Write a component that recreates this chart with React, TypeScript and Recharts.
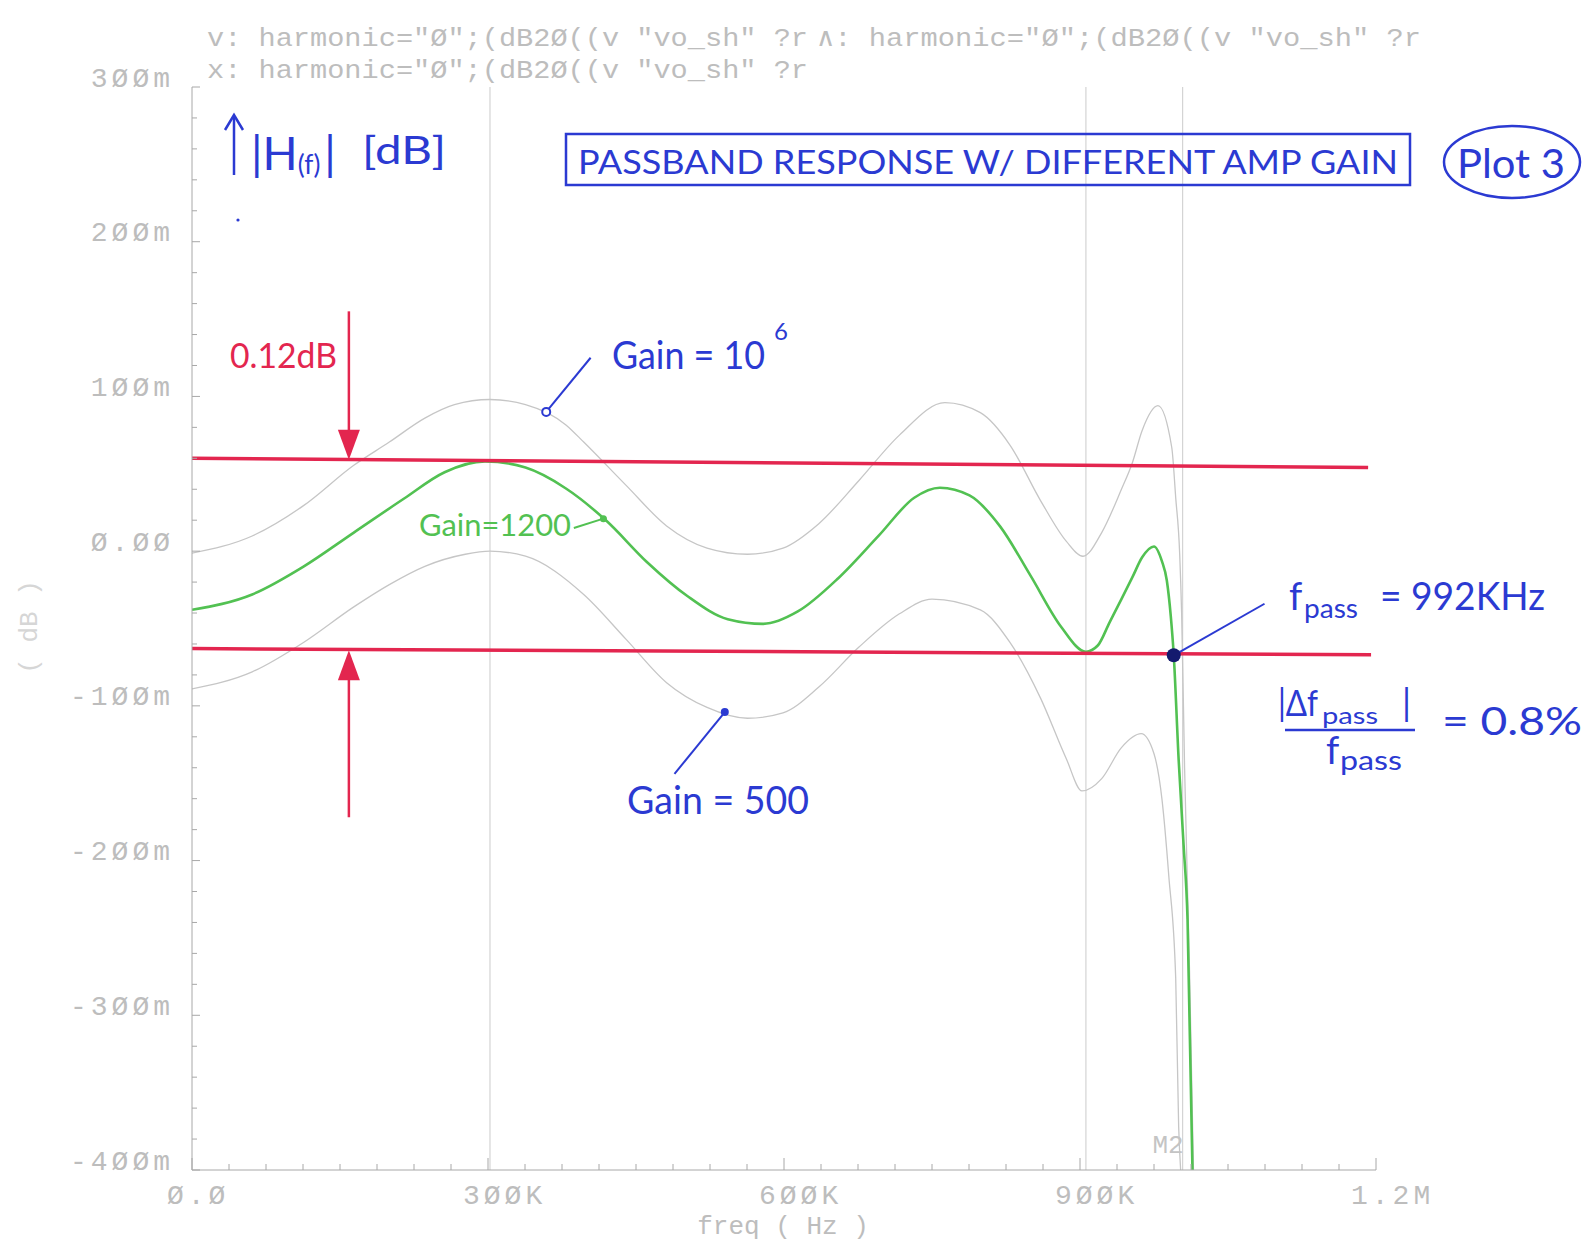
import React from 'react';
import { LineChart, Line, XAxis, YAxis, ReferenceLine, ReferenceDot } from 'recharts';

// values: frequency in kHz, level in milli-dB
const gainMegFreq = [0, 61, 113, 164, 200, 236, 266, 302, 338, 379, 397, 440, 481, 522, 563, 599, 635, 676, 717, 763, 799, 829, 860, 886, 903, 922, 942, 953, 963, 979, 993, 997, 1001, 1003, 1006, 1011, 1015];
const gainMegDb = [-1.3, 9.8, 29.4, 55.5, 70.5, 86, 94.7, 98, 94.7, 81.6, 70.5, 42.5, 16.3, 2, -2, 2, 17.6, 45.7, 75, 96, 89.5, 68.6, 32.7, 6.5, -3.3, 12, 40, 57, 78, 94, 67, 34.6, -1.3, -40, -140, -271, -400];

const gain1200Freq = [0, 61, 113, 164, 215, 256, 297, 338, 379, 420, 461, 502, 543, 579, 614, 655, 696, 732, 758, 788, 819, 850, 881, 906, 918, 930, 942, 953, 963, 975, 983, 988, 992, 995, 1000, 1005, 1009, 1014];
const gain1200Db = [-37.9, -28, -10, 12, 34, 51, 58, 54, 40.5, 19.6, -7, -29, -44, -47, -39, -17.5, 10, 34.5, 41, 36, 16, -16, -49, -65, -61, -46, -31, -17, -4, 3, -6.5, -19, -42, -67, -135, -190, -238, -400];

const gain500Freq = [0, 61, 113, 164, 200, 236, 277, 302, 338, 397, 440, 481, 522, 563, 599, 635, 676, 717, 750, 799, 829, 860, 886, 902, 922, 942, 962, 975, 983, 990, 997, 1000, 1002];
const gain500Db = [-89, -78, -59, -36, -21.6, -9.8, -2, 0, -3.3, -28, -57, -85, -101, -108, -104.5, -88, -62, -40.5, -31, -38, -59, -95, -134, -155, -147, -127, -118, -131, -160, -210, -276, -372, -400];

// passband limits (hand drawn, 0.12 dB apart)
const upperLimit = [[0, 60], [1192, 54]];
const lowerLimit = [[0, -63], [1195, -67]];
const markerFreqs = [302, 906, 1004];
const fpassPoint = [995, -67.3];

const yMajor = [-0.4, -0.3, -0.2, -0.1, 0, 0.1, 0.2, 0.3];
const yMajorLabels = ['-4ØØm', '-3ØØm', '-2ØØm', '-1ØØm', 'Ø.ØØ', '1ØØm', '2ØØm', '3ØØm'];
const xMajor = [0, 300000, 600000, 900000, 1200000];
const xMajorLabels = ['Ø.Ø', '3ØØK', '6ØØK', '9ØØK', '1.2M'];

const toRows = (f: number[], d: number[]) => f.map((k, i) => ({ freq: k * 1000, db: d[i] / 1000 }));
const seriesMeg = toRows(gainMegFreq, gainMegDb);
const series1200 = toRows(gain1200Freq, gain1200Db);
const series500 = toRows(gain500Freq, gain500Db);

const subdivide = (majors: number[], n: number) => {
  const out: number[] = [];
  majors.forEach((m, i) => {
    if (i === majors.length - 1) { out.push(m); return; }
    const step = (majors[i + 1] - m) / n;
    for (let k = 0; k < n; k++) out.push(m + k * step);
  });
  return out;
};
const yTicks = subdivide(yMajor, 5);
const xTicks = subdivide(xMajor, 8);

const RED = '#e3264f';
const BLUE = '#2b3ad2';
const GREEN = '#52c152';
const TRACE = '#c6c6c6';
const AXIS = '#a8a8a8';
const LABEL = '#bdbdbd';
const MONO = '"Liberation Mono", "DejaVu Sans Mono", monospace';
const HAND = 'Lato, "Open Sans", sans-serif';

const pt = (p: number[]) => ({ x: p[0] * 1000, y: p[1] / 1000 });

const YTick = (props: any) => {
  const { x, y, payload } = props;
  const idx = yMajor.findIndex((v) => Math.abs(v - payload.value) < 1e-6);
  if (idx < 0) return <line x1={x} x2={x + 5} y1={y} y2={y} stroke={AXIS} />;
  return (
    <g>
      <line x1={x} x2={x + 8} y1={y} y2={y} stroke={AXIS} />
      <text x={x - 18} y={y - 8} textAnchor="end" dominantBaseline="central" fontFamily={MONO} fontSize={28} letterSpacing={4} fill={LABEL}>
        {yMajorLabels[idx]}
      </text>
    </g>
  );
};

const XTick = (props: any) => {
  const { x, y, payload } = props;
  const idx = xMajor.findIndex((v) => Math.abs(v - payload.value) < 1e-3);
  if (idx < 0) return <line x1={x} x2={x} y1={y} y2={y - 6} stroke={AXIS} />;
  return (
    <g>
      <line x1={x} x2={x} y1={y} y2={y - 12} stroke={AXIS} />
      <text x={x - 25} y={y + 26} textAnchor="start" dominantBaseline="central" fontFamily={MONO} fontSize={28} letterSpacing={4} fill={LABEL}>
        {xMajorLabels[idx]}
      </text>
    </g>
  );
};

const headDown = (p: any) => <polygon points={`${p.cx - 11},${p.cy - 30} ${p.cx + 11},${p.cy - 30} ${p.cx},${p.cy}`} fill={RED} />;
const headUp = (p: any) => <polygon points={`${p.cx - 11},${p.cy + 30} ${p.cx + 11},${p.cy + 30} ${p.cx},${p.cy}`} fill={RED} />;

export default function App() {
  return (
    <div style={{ position: 'absolute', left: 0, top: 0, width: 1585, height: 1241, background: '#fff' }}>
      <LineChart width={1585} height={1241} data={series1200} margin={{ top: 87, right: 209, bottom: 0, left: 0 }}>
        <XAxis
          dataKey="freq"
          type="number"
          domain={[0, 1200000]}
          ticks={xTicks}
          interval={0}
          tick={<XTick />}
          tickLine={false}
          tickSize={0}
          tickMargin={0}
          height={71}
          stroke={AXIS}
          allowDataOverflow
        />
        <YAxis
          type="number"
          domain={[-0.4, 0.3]}
          ticks={yTicks}
          interval={0}
          tick={<YTick />}
          tickLine={false}
          tickSize={0}
          tickMargin={0}
          width={192}
          stroke={AXIS}
          allowDataOverflow
        />
        {markerFreqs.map((f) => (
          <ReferenceLine key={f} x={f * 1000} stroke="#d4d4d4" strokeWidth={1.2} />
        ))}
        <Line data={seriesMeg} dataKey="db" type="monotone" stroke={TRACE} strokeWidth={1.3} dot={false} isAnimationActive={false} />
        <Line data={series500} dataKey="db" type="monotone" stroke={TRACE} strokeWidth={1.3} dot={false} isAnimationActive={false} />
        <Line data={series1200} dataKey="db" type="monotone" stroke={GREEN} strokeWidth={2.6} dot={false} isAnimationActive={false} />

        <ReferenceLine segment={upperLimit.map(pt)} stroke={RED} strokeWidth={3.5} ifOverflow="visible" />
        <ReferenceLine segment={lowerLimit.map(pt)} stroke={RED} strokeWidth={3.5} ifOverflow="visible" />

        <ReferenceLine segment={[pt([159, 155]), pt([159, 70])]} stroke={RED} strokeWidth={2.5} ifOverflow="visible" />
        <ReferenceDot x={159000} y={0.059} shape={headDown} ifOverflow="visible" />
        <ReferenceLine segment={[pt([159, -172]), pt([159, -75])]} stroke={RED} strokeWidth={2.5} ifOverflow="visible" />
        <ReferenceDot x={159000} y={-0.064} shape={headUp} ifOverflow="visible" />

        <ReferenceLine segment={[pt([404, 125]), pt([359, 90])]} stroke={BLUE} strokeWidth={2} ifOverflow="visible" />
        <ReferenceDot x={359000} y={0.09} r={4} fill="#fff" stroke={BLUE} strokeWidth={2} ifOverflow="visible" />
        <ReferenceLine segment={[pt([387, 15]), pt([417, 21])]} stroke={GREEN} strokeWidth={2} ifOverflow="visible" />
        <ReferenceDot x={417000} y={0.021} r={3.5} fill={GREEN} stroke="none" ifOverflow="visible" />
        <ReferenceLine segment={[pt([489, -144]), pt([540, -104])]} stroke={BLUE} strokeWidth={2} ifOverflow="visible" />
        <ReferenceDot x={540000} y={-0.104} r={4} fill={BLUE} stroke="none" ifOverflow="visible" />
        <ReferenceLine segment={[pt([1087, -34]), pt(fpassPoint)]} stroke={BLUE} strokeWidth={2} ifOverflow="visible" />
        <ReferenceDot x={fpassPoint[0] * 1000} y={fpassPoint[1] / 1000} r={7} fill="#141a6e" stroke="none" ifOverflow="visible" />
      </LineChart>

      <svg width={1585} height={1241} style={{ position: 'absolute', left: 0, top: 0, pointerEvents: 'none' }}>
        {/* simulator legend header */}
        <g fontFamily={MONO} fontSize={26} fill={LABEL}>
          <text x={207} y={46} textLength={601} lengthAdjust="spacingAndGlyphs">v:  harmonic="Ø";(dB2Ø((v "vo_sh" ?r</text>
          <text x={817} y={46} textLength={604} lengthAdjust="spacingAndGlyphs">∧:  harmonic="Ø";(dB2Ø((v "vo_sh" ?r</text>
          <text x={207} y={78} textLength={601} lengthAdjust="spacingAndGlyphs">x:  harmonic="Ø";(dB2Ø((v "vo_sh" ?r</text>
          <text x={783} y={1227} textAnchor="middle" dominantBaseline="central">freq ( Hz )</text>
          <text x={30} y={627} textAnchor="middle" dominantBaseline="central" fill="#d6d6d6" transform="rotate(-90 30 627)">( dB )</text>
          <text x={1168} y={1146} textAnchor="middle" dominantBaseline="central" fill="#c4c4c4">M2</text>
        </g>

        {/* hand annotations */}
        <g fontFamily={HAND} fill={BLUE}>
          <line x1={234} y1={175} x2={234} y2={116} stroke={BLUE} strokeWidth={2.5} />
          <polyline points="225,130 234,115 243,130" fill="none" stroke={BLUE} strokeWidth={2.5} />
          <text x={251} y={170} fontSize={46}>
            <tspan>|H</tspan>
            <tspan fontSize={26} dy={4}>(f)</tspan>
            <tspan dy={-4} dx={4}>|</tspan>
          </text>
          <text x={362} y={164} fontSize={38} textLength={84} lengthAdjust="spacingAndGlyphs">[dB]</text>
          <circle cx={238} cy={220} r={1.6} />

          <rect x={566} y={134} width={844} height={51} fill="none" stroke={BLUE} strokeWidth={2.5} />
          <text x={578} y={174} fontSize={32} textLength={820} lengthAdjust="spacingAndGlyphs">PASSBAND RESPONSE W/ DIFFERENT AMP GAIN</text>
          <ellipse cx={1512} cy={162} rx={68} ry={36} fill="none" stroke={BLUE} strokeWidth={2.5} />
          <text x={1457} y={178} fontSize={40} textLength={108} lengthAdjust="spacingAndGlyphs">Plot 3</text>

          <text x={612} y={369} fontSize={38} textLength={153} lengthAdjust="spacingAndGlyphs">Gain = 10</text>
          <text x={774} y={340} fontSize={24}>6</text>
          <text x={627} y={814} fontSize={38} textLength={182} lengthAdjust="spacingAndGlyphs">Gain = 500</text>

          <text x={1289} y={610} fontSize={38}>f</text>
          <text x={1304} y={618} fontSize={26} textLength={54} lengthAdjust="spacingAndGlyphs">pass</text>
          <text x={1380} y={610} fontSize={38} textLength={165} lengthAdjust="spacingAndGlyphs">= 992KHz</text>

          <text x={1278} y={716} fontSize={36} textLength={40} lengthAdjust="spacingAndGlyphs">|Δf</text>
          <text x={1322} y={724} fontSize={24} textLength={56} lengthAdjust="spacingAndGlyphs">pass</text>
          <text x={1402} y={716} fontSize={36}>|</text>
          <line x1={1285} y1={730} x2={1415} y2={730} stroke={BLUE} strokeWidth={2.5} />
          <text x={1326} y={764} fontSize={38}>f</text>
          <text x={1340} y={770} fontSize={26} textLength={62} lengthAdjust="spacingAndGlyphs">pass</text>
          <text x={1442} y={735} fontSize={38} textLength={140} lengthAdjust="spacingAndGlyphs">= 0.8%</text>
        </g>
        <g fontFamily={HAND}>
          <text x={230} y={368} fontSize={34} fill={RED} textLength={107} lengthAdjust="spacingAndGlyphs">0.12dB</text>
          <text x={419} y={536} fontSize={30} fill={GREEN} textLength={152} lengthAdjust="spacingAndGlyphs">Gain=1200</text>
        </g>
      </svg>
    </div>
  );
}
